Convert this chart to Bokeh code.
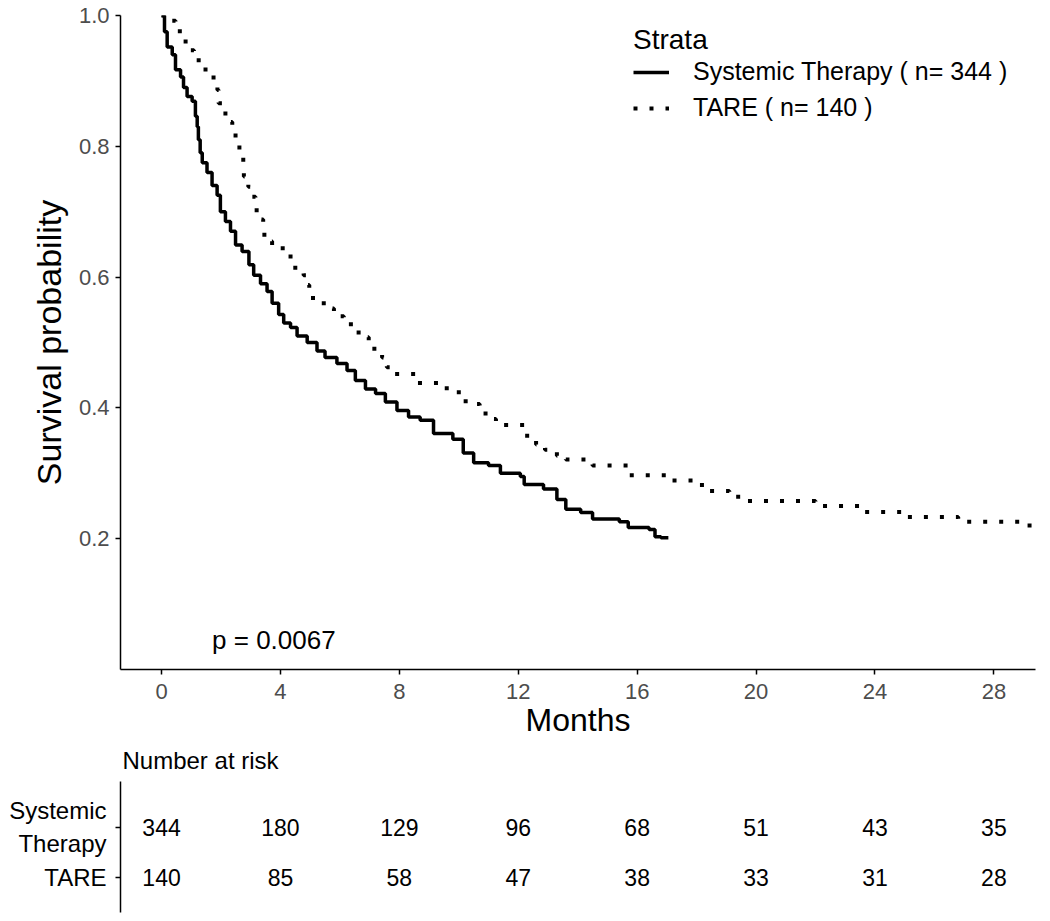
from bokeh.plotting import figure
from bokeh.layouts import column
from bokeh.models import Range1d, FixedTicker, PrintfTickFormatter, Label, Legend, LegendItem
from bokeh.core.properties import value
from bokeh.embed import file_html
from bokeh.resources import INLINE

FONT = "Liberation Sans"

# Kaplan-Meier step data (time in months, survival after each step)
sys_time = [0, 0.10, 0.19, 0.36, 0.47, 0.64, 0.74, 0.86, 1.03, 1.14, 1.20, 1.24, 1.30, 1.37, 1.53,
            1.70, 1.87, 1.98, 2.15, 2.32, 2.49, 2.71, 2.94, 3.10, 3.33, 3.55, 3.72, 3.94, 4.11,
            4.34, 4.56, 4.90, 5.23, 5.50, 5.90, 6.24, 6.52, 6.86, 7.20, 7.53, 7.92, 8.31, 8.70,
            9.15, 9.80, 10.15, 10.50, 11.00, 11.40, 12.07, 12.20, 12.85, 13.30, 13.60, 14.10,
            14.50, 15.40, 15.70, 16.40, 16.60, 16.80, 17.05]
sys_surv = [1.0, 0.975, 0.952, 0.940, 0.917, 0.906, 0.890, 0.876, 0.869, 0.846, 0.830, 0.810, 0.790,
            0.775, 0.760, 0.740, 0.725, 0.700, 0.685, 0.670, 0.649, 0.639, 0.619, 0.603, 0.590,
            0.578, 0.560, 0.543, 0.530, 0.523, 0.510, 0.500, 0.487, 0.477, 0.468, 0.457, 0.442,
            0.429, 0.422, 0.409, 0.396, 0.386, 0.381, 0.361, 0.352, 0.331, 0.316, 0.312, 0.300,
            0.295, 0.283, 0.276, 0.260, 0.245, 0.240, 0.230, 0.226, 0.217, 0.214, 0.203, 0.2015,
            0.2015]

tare_time = [0, 0.33, 0.47, 0.75, 0.81, 1.09, 1.25, 1.48, 1.75, 1.88, 1.92, 2.05, 2.25, 2.38, 2.49,
             2.62, 2.75, 2.77, 2.92, 3.05, 3.16, 3.20, 3.42, 3.46, 3.72, 4.34, 4.50, 4.78, 4.90,
             4.97, 5.29, 5.60, 5.80, 6.13, 6.37, 6.63, 6.97, 7.16, 7.42, 7.58, 7.85, 8.60, 9.30,
             10.00, 10.40, 10.70, 10.90, 11.25, 12.20, 12.30, 12.60, 12.90, 13.30, 13.60, 14.50,
             15.70, 17.10, 18.00, 18.40, 19.10, 19.50, 22.00, 23.50, 24.90, 26.80, 29.20, 29.60]
tare_surv = [1.0, 0.992, 0.976, 0.966, 0.947, 0.938, 0.924, 0.913, 0.900, 0.886, 0.866, 0.850, 0.837,
             0.821, 0.805, 0.790, 0.773, 0.754, 0.738, 0.723, 0.706, 0.688, 0.674, 0.655, 0.644,
             0.626, 0.611, 0.603, 0.588, 0.568, 0.560, 0.552, 0.540, 0.532, 0.519, 0.508, 0.500,
             0.487, 0.477, 0.462, 0.452, 0.438, 0.430, 0.410, 0.406, 0.395, 0.383, 0.374, 0.367,
             0.352, 0.344, 0.336, 0.327, 0.321, 0.312, 0.297, 0.289, 0.282, 0.273, 0.264, 0.2576,
             0.250, 0.241, 0.233, 0.2258, 0.217, 0.217]

strata_labels = ["Systemic Therapy ( n= 344 )", "TARE ( n= 140 )"]
legend_title = "Strata"
pval_text = "p = 0.0067"
risk_title = "Number at risk"

x_ticks = [0, 4, 8, 12, 16, 20, 24, 28]
y_ticks = [0.2, 0.4, 0.6, 0.8, 1.0]

risk_times = [0, 4, 8, 12, 16, 20, 24, 28]
risk_sys = [344, 180, 129, 96, 68, 51, 43, 35]
risk_tare = [140, 85, 58, 47, 38, 33, 31, 28]
risk_rows = {2: "Systemic\nTherapy", 1: "TARE"}

AX_COL = "#4d4d4d"

# ---------------- main survival plot ----------------
p = figure(width=1042, height=740, x_range=Range1d(-1.38, 29.4), y_range=Range1d(0.0, 1.0),
           output_backend="svg", toolbar_location=None,
           min_border_left=120, min_border_right=7, min_border_top=15, min_border_bottom=66)
p.xgrid.visible = False
p.ygrid.visible = False
p.outline_line_color = None
p.background_fill_color = "white"
p.border_fill_color = "white"

r_sys = p.step(sys_time, sys_surv, mode="after", line_width=3.5, line_color="black")
r_tare = p.step(tare_time, tare_surv, mode="after", line_width=4, line_color="black",
                line_dash="4 12")

for ax in (p.xaxis, p.yaxis):
    ax.axis_line_color = "black"
    ax.axis_line_width = 1.5
    ax.major_tick_line_color = "black"
    ax.major_tick_line_width = 1.5
    ax.major_tick_out = 5
    ax.major_tick_in = 0
    ax.minor_tick_out = 0
    ax.minor_tick_in = 0
    ax.major_label_text_font = FONT
    ax.major_label_text_font_size = "22px"
    ax.major_label_text_color = AX_COL
    ax.axis_label_text_font = FONT
    ax.axis_label_text_font_style = "normal"
    ax.axis_label_text_color = "black"

p.xaxis.ticker = FixedTicker(ticks=x_ticks)
p.xaxis.axis_label = "Months"
p.xaxis.axis_label_text_font_size = "32px"
p.xaxis.major_label_standoff = 9
p.xaxis.axis_label_standoff = 0

p.yaxis.ticker = FixedTicker(ticks=y_ticks)
p.yaxis.formatter = PrintfTickFormatter(format="%.1f")
p.yaxis.axis_label = "Survival probability"
p.yaxis.axis_label_text_font_size = "34px"
p.yaxis.major_label_standoff = 6
p.yaxis.axis_label_standoff = 8

p.add_layout(Label(x=1.7, y=0.045, text=pval_text, text_font=FONT, text_font_size="26px",
                   text_baseline="middle", text_align="left", text_color="black"))

legend = Legend(items=[LegendItem(label=strata_labels[0], renderers=[r_sys]),
                       LegendItem(label=strata_labels[1], renderers=[r_tare])],
                location=(513, 547), title=legend_title,
                title_text_font=FONT, title_text_font_size="28px", title_text_font_style="normal",
                title_text_color="black", title_standoff=1,
                label_text_font=FONT, label_text_font_size="25px", label_text_color="black",
                glyph_width=36, glyph_height=26, label_height=26, label_standoff=24,
                spacing=7, padding=0, margin=0,
                border_line_alpha=0, background_fill_alpha=0)
p.add_layout(legend)

# ---------------- risk table ----------------
p2 = figure(width=1042, height=173, x_range=p.x_range, y_range=Range1d(0.31, 2.9),
            output_backend="svg", toolbar_location=None, x_axis_location=None,
            min_border_left=120, min_border_right=7, min_border_top=0, min_border_bottom=1)
p2.xgrid.visible = False
p2.ygrid.visible = False
p2.outline_line_color = None
p2.title.text = risk_title
p2.title.text_font = FONT
p2.title.text_font_size = "24px"
p2.title.text_font_style = "normal"
p2.title.text_color = "black"
p2.title.align = "left"
p2.title.vertical_align = "top"
p2.title.offset = 2
p2.title.standoff = 12

p2.yaxis.ticker = FixedTicker(ticks=list(risk_rows.keys()))
p2.yaxis.major_label_overrides = risk_rows
p2.yaxis.axis_line_color = "black"
p2.yaxis.axis_line_width = 1.5
p2.yaxis.major_tick_line_color = "black"
p2.yaxis.major_tick_line_width = 1.5
p2.yaxis.major_tick_out = 5
p2.yaxis.major_tick_in = 0
p2.yaxis.minor_tick_out = 0
p2.yaxis.minor_tick_in = 0
p2.yaxis.major_label_text_font = FONT
p2.yaxis.major_label_text_font_size = "24px"
p2.yaxis.major_label_text_color = "black"
p2.yaxis.major_label_standoff = 9

p2.text(x=risk_times, y=[2] * len(risk_times), text=[str(v) for v in risk_sys],
        text_align="center", text_baseline="middle", text_font=value(FONT),
        text_font_size="23px", text_color="black")
p2.text(x=risk_times, y=[1] * len(risk_times), text=[str(v) for v in risk_tare],
        text_align="center", text_baseline="middle", text_font=value(FONT),
        text_font_size="23px", text_color="black")

layout = column(p, p2)
open("out.html", "w").write(file_html(layout, INLINE))
